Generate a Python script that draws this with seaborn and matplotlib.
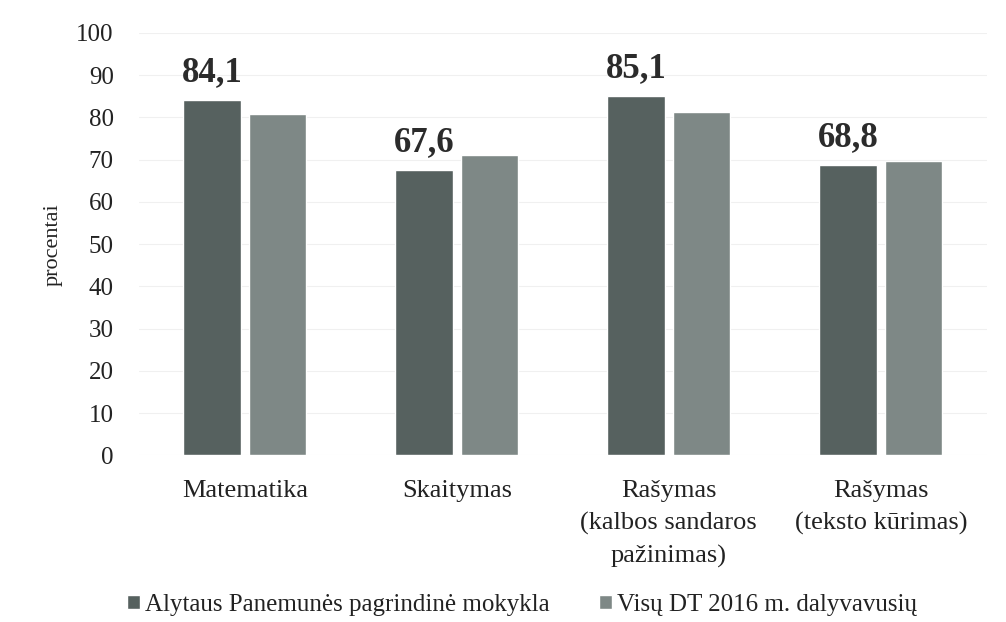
import numpy as np
import pandas as pd
import matplotlib
matplotlib.use("Agg")
import matplotlib.pyplot as plt
import seaborn as sns

# Data
categories = ["Matematika", "Skaitymas", "Rašymas\n(kalbos sandaros\npažinimas)", "Rašymas\n(teksto kūrimas)"]
school = [84.1, 67.6, 85.1, 68.8]
all_schools = [80.7, 71.0, 81.3, 69.6]
series_names = ["Alytaus Panemunės pagrindinė mokykla", "Visų DT 2016 m. dalyvavusių"]
y_ticks = list(range(0, 101, 10))

df = pd.DataFrame({
    "category": categories * 2,
    "value": school + all_schools,
    "series": [series_names[0]] * 4 + [series_names[1]] * 4,
})

sns.set_style("white")
plt.rcParams["font.family"] = ["Liberation Serif", "DejaVu Serif"]

fig = plt.figure(figsize=(10.06, 6.22), dpi=100)
ax = fig.add_axes([0.138, 0.268, 0.843, 0.679])

colors = ["#56615f", "#7e8886"]
sns.barplot(data=df, x="category", y="value", hue="series", palette=colors,
            width=0.62, gap=0.13, ax=ax, saturation=1, legend=True)

# value labels only on the school bars
for bar, val in zip(ax.containers[0], school):
    ax.text(bar.get_x() + bar.get_width() / 2, bar.get_height() + 2.5,
            f"{val:.1f}".replace(".", ","), ha="center", va="bottom",
            fontsize=25, fontweight="bold", color="#2b2b2b")

ax.set_ylim(0, 100)
ax.set_yticks(y_ticks)
ax.tick_params(axis="y", labelsize=18, length=0, pad=18, colors="#222222")
ax.tick_params(axis="x", labelsize=19, length=0, pad=18, colors="#222222")
for lbl in ax.get_xticklabels():
    lbl.set_linespacing(1.55)
ax.set_xlabel("")
ax.set_ylabel("procentai", fontsize=16, color="#222222", labelpad=10)
sns.despine(ax=ax, left=True, bottom=True)
ax.grid(axis="y", color="#f0f0f0", linewidth=0.8)
ax.set_axisbelow(True)

handles, labels = ax.get_legend_handles_labels()
ax.legend(handles, labels, loc="center", bbox_to_anchor=(0.452, -0.355),
          ncol=2, frameon=False, fontsize=18, handlelength=0.5, handleheight=0.5,
          handletextpad=0.2, columnspacing=2.0, labelcolor="#222222")

fig.savefig("out.png", dpi=100)
